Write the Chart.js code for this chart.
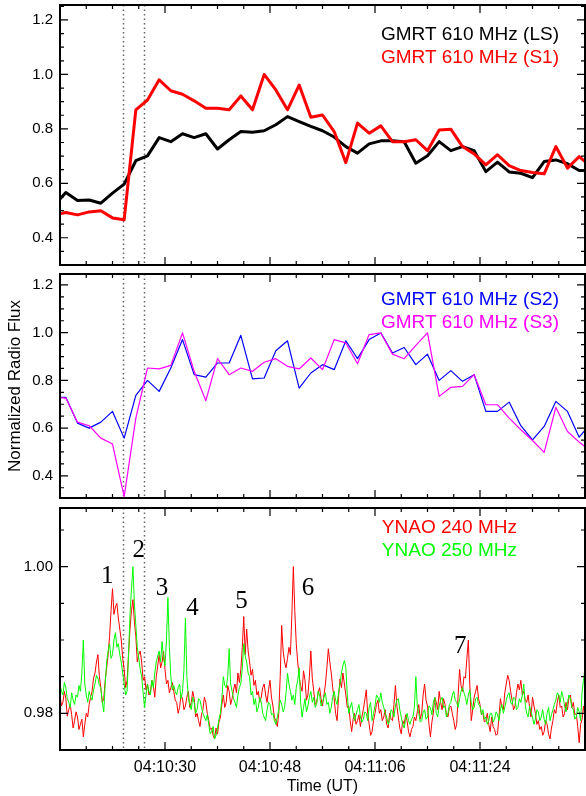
<!DOCTYPE html>
<html>
<head>
<meta charset="utf-8">
<script src="https://cdn.jsdelivr.net/npm/chart.js@4.4.0/dist/chart.umd.min.js"></script>
<style>
  html, body { margin: 0; padding: 0; background: #fff; }
  #wrap { position: relative; width: 586px; height: 796px; }
  canvas { position: absolute; left: 0; }
</style>
</head>
<body>
<div id="wrap">
  <canvas id="gmrt1" width="586" height="270" style="top:0"></canvas>
  <canvas id="gmrt2" width="586" height="233" style="top:270px"></canvas>
  <canvas id="ynao" width="586" height="293" style="top:503px"></canvas>
</div>
<script>
// time axis: seconds after 04:10:12 UT
const timeTicks = [18, 36, 54, 72];
const timeLabels = ['04:10:30', '04:10:48', '04:11:06', '04:11:24'];
const markerTimes = [10.8, 14.4];   // dotted lines

const gmrtYTicks = [0.4, 0.6, 0.8, 1.0, 1.2];
const ynaoYTicks = [0.98, 1.00];

// GMRT 610 MHz, 2 s cadence
const gmrtTime = [-1, 1, 3, 5, 7, 9, 11, 13, 15, 17, 19, 21, 23, 25, 27, 29, 31, 33, 35, 37, 39, 41, 43, 45,
  47, 49, 51, 53, 55, 57, 59, 61, 63, 65, 67, 69, 71, 73, 75, 77, 79, 81, 83, 85, 87, 89, 91];
const gmrtLS = [0.518, 0.566, 0.537, 0.539, 0.527, 0.564, 0.597, 0.683, 0.701, 0.768, 0.753, 0.782, 0.768,
  0.782, 0.726, 0.760, 0.790, 0.788, 0.793, 0.815, 0.845, 0.827, 0.809, 0.793, 0.770, 0.735, 0.711, 0.745,
  0.756, 0.756, 0.753, 0.674, 0.701, 0.753, 0.720, 0.735, 0.720, 0.643, 0.678, 0.642, 0.637, 0.621, 0.680,
  0.686, 0.672, 0.647, 0.647];
const gmrtS1 = [0.484, 0.493, 0.484, 0.495, 0.499, 0.473, 0.466, 0.870, 0.906, 0.980, 0.940, 0.927, 0.903,
  0.876, 0.876, 0.870, 0.921, 0.870, 1.000, 0.943, 0.870, 0.961, 0.843, 0.851, 0.790, 0.676, 0.821, 0.784,
  0.811, 0.753, 0.753, 0.760, 0.720, 0.796, 0.799, 0.735, 0.708, 0.668, 0.705, 0.665, 0.647, 0.640, 0.635,
  0.735, 0.656, 0.698, 0.662];
const gmrtS2 = [0.729, 0.729, 0.621, 0.600, 0.625, 0.670, 0.558, 0.737, 0.800, 0.754, 0.852, 0.971, 0.824,
  0.814, 0.873, 0.873, 0.989, 0.806, 0.810, 0.924, 0.966, 0.768, 0.831, 0.866, 0.845, 0.966, 0.891, 0.971,
  0.999, 0.915, 0.938, 0.866, 0.910, 0.800, 0.841, 0.796, 0.824, 0.670, 0.670, 0.709, 0.610, 0.551, 0.607,
  0.712, 0.670, 0.562, 0.620];
const gmrtS3 = [0.729, 0.726, 0.625, 0.610, 0.558, 0.533, 0.313, 0.642, 0.852, 0.848, 0.863, 0.999, 0.838,
  0.715, 0.891, 0.824, 0.852, 0.838, 0.876, 0.891, 0.859, 0.848, 0.894, 0.845, 0.971, 0.957, 0.870, 0.992,
  0.999, 0.910, 0.891, 0.947, 0.999, 0.733, 0.771, 0.775, 0.824, 0.698, 0.698, 0.642, 0.593, 0.548, 0.498,
  0.687, 0.586, 0.541, 0.505];

// YNAO, sampled every 0.25 s from 04:10:12 (one row = 5 s)
const ynaoStep = 0.25;
const ynao240 = [
  0.9825, 0.9810, 0.9815, 0.9830, 0.9820, 0.9796, 0.9805, 0.9812, 0.9798, 0.9780, 0.9790, 0.9802, 0.9795, 0.9778, 0.9785, 0.9792, 0.9768, 0.9785, 0.9800, 0.9795,
  0.9812, 0.9822, 0.9830, 0.9848, 0.9855, 0.9870, 0.9880, 0.9850, 0.9835, 0.9815, 0.9820, 0.9845, 0.9862, 0.9880, 0.9905, 0.9940, 0.9970, 0.9935, 0.9945, 0.9950,
  0.9930, 0.9915, 0.9900, 0.9875, 0.9860, 0.9835, 0.9845, 0.9880, 0.9915, 0.9940, 0.9955, 0.9925, 0.9905, 0.9870, 0.9880, 0.9885, 0.9870, 0.9845, 0.9850, 0.9832,
  0.9840, 0.9825, 0.9830, 0.9845, 0.9838, 0.9822, 0.9850, 0.9865, 0.9880, 0.9862, 0.9870, 0.9885, 0.9860, 0.9840, 0.9845, 0.9828, 0.9835, 0.9842, 0.9830, 0.9818,
  0.9815, 0.9800, 0.9808, 0.9825, 0.9820, 0.9805, 0.9810, 0.9822, 0.9830, 0.9808, 0.9815, 0.9830, 0.9820, 0.9795, 0.9800, 0.9790, 0.9782, 0.9798, 0.9805, 0.9822,
  0.9815, 0.9800, 0.9790, 0.9778, 0.9780, 0.9770, 0.9765, 0.9780, 0.9772, 0.9788, 0.9795, 0.9812, 0.9825, 0.9808, 0.9815, 0.9838, 0.9830, 0.9812, 0.9820, 0.9832,
  0.9840, 0.9828, 0.9855, 0.9842, 0.9860, 0.9890, 0.9932, 0.9880, 0.9915, 0.9885, 0.9870, 0.9852, 0.9860, 0.9838, 0.9845, 0.9825, 0.9830, 0.9815, 0.9822, 0.9835,
  0.9840, 0.9825, 0.9815, 0.9832, 0.9845, 0.9822, 0.9810, 0.9795, 0.9790, 0.9782, 0.9800, 0.9850, 0.9920, 0.9885, 0.9870, 0.9862, 0.9875, 0.9890, 0.9880, 0.9935,
  1.0000, 0.9940, 0.9895, 0.9870, 0.9850, 0.9838, 0.9830, 0.9858, 0.9845, 0.9818, 0.9825, 0.9850, 0.9885, 0.9848, 0.9830, 0.9812, 0.9815, 0.9828, 0.9835, 0.9820,
  0.9810, 0.9825, 0.9840, 0.9862, 0.9888, 0.9870, 0.9855, 0.9835, 0.9820, 0.9800, 0.9790, 0.9822, 0.9847, 0.9835, 0.9855, 0.9840, 0.9825, 0.9808, 0.9810, 0.9790,
  0.9775, 0.9792, 0.9800, 0.9785, 0.9790, 0.9798, 0.9782, 0.9795, 0.9805, 0.9818, 0.9832, 0.9800, 0.9785, 0.9770, 0.9775, 0.9790, 0.9800, 0.9812, 0.9818, 0.9800,
  0.9805, 0.9790, 0.9795, 0.9805, 0.9785, 0.9780, 0.9800, 0.9792, 0.9790, 0.9812, 0.9838, 0.9810, 0.9795, 0.9780, 0.9772, 0.9790, 0.9785, 0.9798, 0.9790, 0.9775,
  0.9768, 0.9778, 0.9782, 0.9795, 0.9790, 0.9802, 0.9812, 0.9792, 0.9800, 0.9825, 0.9840, 0.9818, 0.9810, 0.9785, 0.9768, 0.9788, 0.9800, 0.9822, 0.9815, 0.9805,
  0.9830, 0.9815, 0.9805, 0.9820, 0.9812, 0.9798, 0.9795, 0.9808, 0.9810, 0.9800, 0.9790, 0.9778, 0.9785, 0.9825, 0.9860, 0.9838, 0.9830, 0.9850, 0.9848, 0.9875,
  0.9900, 0.9840, 0.9790, 0.9805, 0.9822, 0.9830, 0.9838, 0.9820, 0.9812, 0.9798, 0.9800, 0.9788, 0.9790, 0.9800, 0.9785, 0.9775, 0.9795, 0.9782, 0.9778, 0.9770,
  0.9772, 0.9795, 0.9820, 0.9808, 0.9805, 0.9828, 0.9840, 0.9852, 0.9845, 0.9830, 0.9818, 0.9805, 0.9810, 0.9828, 0.9840, 0.9832, 0.9845, 0.9825, 0.9830, 0.9818,
  0.9815, 0.9825, 0.9808, 0.9795, 0.9822, 0.9810, 0.9800, 0.9785, 0.9790, 0.9778, 0.9782, 0.9770, 0.9775, 0.9790, 0.9785, 0.9772, 0.9765, 0.9780, 0.9790, 0.9805,
  0.9800, 0.9815, 0.9825, 0.9808, 0.9810, 0.9795, 0.9800, 0.9815, 0.9805, 0.9822, 0.9825, 0.9808, 0.9815, 0.9798, 0.9800, 0.9782, 0.9760, 0.9785, 0.9792, 0.9810,
  0.9795];
const ynao250 = [
  0.9840, 0.9830, 0.9825, 0.9842, 0.9835, 0.9820, 0.9815, 0.9808, 0.9828, 0.9818, 0.9812, 0.9825, 0.9822, 0.9838, 0.9830, 0.9855, 0.9900, 0.9840, 0.9825, 0.9815,
  0.9830, 0.9822, 0.9818, 0.9832, 0.9840, 0.9852, 0.9848, 0.9838, 0.9835, 0.9815, 0.9802, 0.9840, 0.9870, 0.9885, 0.9895, 0.9875, 0.9880, 0.9900, 0.9910, 0.9890,
  0.9895, 0.9880, 0.9870, 0.9855, 0.9840, 0.9825, 0.9830, 0.9880, 0.9935, 0.9970, 1.0000, 0.9950, 0.9920, 0.9890, 0.9875, 0.9860, 0.9850, 0.9828, 0.9808, 0.9825,
  0.9840, 0.9830, 0.9825, 0.9845, 0.9835, 0.9855, 0.9870, 0.9878, 0.9885, 0.9870, 0.9898, 0.9875, 0.9865, 0.9900, 0.9958, 0.9890, 0.9850, 0.9832, 0.9838, 0.9830,
  0.9825, 0.9835, 0.9840, 0.9820, 0.9830, 0.9860, 0.9930, 0.9850, 0.9822, 0.9812, 0.9805, 0.9822, 0.9815, 0.9800, 0.9805, 0.9820, 0.9818, 0.9808, 0.9800, 0.9795,
  0.9790, 0.9798, 0.9785, 0.9772, 0.9775, 0.9782, 0.9765, 0.9770, 0.9780, 0.9792, 0.9800, 0.9820, 0.9850, 0.9838, 0.9835, 0.9850, 0.9888, 0.9840, 0.9830, 0.9820,
  0.9815, 0.9808, 0.9825, 0.9835, 0.9840, 0.9862, 0.9895, 0.9878, 0.9870, 0.9855, 0.9850, 0.9825, 0.9830, 0.9812, 0.9820, 0.9802, 0.9808, 0.9822, 0.9815, 0.9800,
  0.9795, 0.9790, 0.9805, 0.9815, 0.9812, 0.9798, 0.9800, 0.9790, 0.9785, 0.9795, 0.9805, 0.9818, 0.9812, 0.9802, 0.9808, 0.9828, 0.9855, 0.9840, 0.9830, 0.9818,
  0.9825, 0.9812, 0.9835, 0.9845, 0.9862, 0.9815, 0.9795, 0.9808, 0.9820, 0.9802, 0.9810, 0.9822, 0.9830, 0.9815, 0.9822, 0.9808, 0.9812, 0.9830, 0.9825, 0.9810,
  0.9815, 0.9822, 0.9828, 0.9812, 0.9815, 0.9800, 0.9808, 0.9822, 0.9830, 0.9818, 0.9812, 0.9828, 0.9840, 0.9855, 0.9865, 0.9872, 0.9862, 0.9825, 0.9800, 0.9808,
  0.9815, 0.9800, 0.9790, 0.9798, 0.9805, 0.9812, 0.9795, 0.9788, 0.9792, 0.9802, 0.9800, 0.9790, 0.9808, 0.9815, 0.9790, 0.9800, 0.9810, 0.9825, 0.9822, 0.9815,
  0.9828, 0.9815, 0.9808, 0.9800, 0.9795, 0.9785, 0.9790, 0.9805, 0.9802, 0.9795, 0.9810, 0.9818, 0.9820, 0.9805, 0.9795, 0.9785, 0.9780, 0.9792, 0.9800, 0.9790,
  0.9785, 0.9792, 0.9795, 0.9808, 0.9850, 0.9810, 0.9800, 0.9788, 0.9790, 0.9802, 0.9805, 0.9792, 0.9795, 0.9810, 0.9808, 0.9798, 0.9815, 0.9822, 0.9800, 0.9795,
  0.9810, 0.9818, 0.9822, 0.9808, 0.9810, 0.9795, 0.9800, 0.9812, 0.9815, 0.9825, 0.9830, 0.9818, 0.9815, 0.9808, 0.9820, 0.9830, 0.9835, 0.9828, 0.9822, 0.9812,
  0.9825, 0.9832, 0.9815, 0.9805, 0.9808, 0.9820, 0.9822, 0.9812, 0.9810, 0.9798, 0.9805, 0.9792, 0.9795, 0.9785, 0.9790, 0.9800, 0.9800, 0.9788, 0.9792, 0.9802,
  0.9798, 0.9790, 0.9805, 0.9812, 0.9800, 0.9808, 0.9818, 0.9825, 0.9828, 0.9815, 0.9812, 0.9822, 0.9820, 0.9805, 0.9808, 0.9820, 0.9815, 0.9825, 0.9840, 0.9812,
  0.9800, 0.9795, 0.9810, 0.9802, 0.9795, 0.9785, 0.9792, 0.9805, 0.9802, 0.9790, 0.9795, 0.9805, 0.9792, 0.9785, 0.9800, 0.9808, 0.9790, 0.9798, 0.9805, 0.9812,
  0.9818, 0.9828, 0.9825, 0.9815, 0.9830, 0.9822, 0.9810, 0.9802, 0.9815, 0.9825, 0.9820, 0.9808, 0.9805, 0.9792, 0.9795, 0.9808, 0.9802, 0.9790, 0.9830, 0.9845,
  0.9862];

// burst numbers, placed in data units
const burstIds = ['1', '2', '3', '4', '5', '6', '7'];
const burstTime = [8.1, 13.5, 17.5, 22.7, 31.1, 42.5, 68.6];
const burstFlux = [0.9978, 1.0013, 0.9961, 0.9934, 0.9943, 0.9961, 0.9882];

Chart.defaults.font.family = "'Liberation Sans', Arial, sans-serif";
Chart.defaults.color = '#000';

const pts = (xs, ys) => ys.map((v, i) => ({ x: xs[i], y: v }));
const ynaoPts = ys => ys.map((v, i) => ({ x: i * ynaoStep, y: v }));
const noEdgePad = s => { s.paddingTop = 0; s.paddingBottom = 0; s.paddingLeft = 0; s.paddingRight = 0; };

// IDL-style box: inward ticks on all four sides, dotted markers, text legend
const idlFrame = {
  id: 'idlFrame',
  beforeDatasetsDraw(chart) {
    const { ctx, chartArea: a, scales: { x } } = chart;
    ctx.save();
    ctx.strokeStyle = '#666';
    ctx.lineWidth = 1.5;
    ctx.setLineDash([1.5, 3]);
    markerTimes.forEach(t => {
      const px = Math.round(x.getPixelForValue(t)) + 0.5;
      ctx.beginPath();
      ctx.moveTo(px, a.top);
      ctx.lineTo(px, a.bottom);
      ctx.stroke();
    });
    ctx.restore();
  },
  afterDraw(chart, args, opts) {
    const { ctx, chartArea: a, scales: { x, y } } = chart;
    ctx.save();
    ctx.strokeStyle = '#000';
    ctx.lineWidth = 1.2;

    const steps = (scale, minor, major, fn) => {
      const k0 = Math.ceil(scale.min / minor - 1e-6), k1 = Math.floor(scale.max / minor + 1e-6);
      for (let k = k0; k <= k1; k++) {
        const v = k * minor;
        if (Math.abs(v - scale.min) < 1e-6 || Math.abs(v - scale.max) < 1e-6) continue;
        const isMajor = Math.abs(v / major - Math.round(v / major)) < 1e-6;
        fn(scale.getPixelForValue(v), isMajor ? 8 : 4);
      }
    };
    ctx.beginPath();
    steps(x, opts.xMinor, opts.xMajor, (p, len) => {
      ctx.moveTo(p, a.bottom); ctx.lineTo(p, a.bottom - len);
      ctx.moveTo(p, a.top); ctx.lineTo(p, a.top + len);
    });
    steps(y, opts.yMinor, opts.yMajor, (p, len) => {
      ctx.moveTo(a.left, p); ctx.lineTo(a.left + len, p);
      ctx.moveTo(a.right, p); ctx.lineTo(a.right - len, p);
    });
    ctx.stroke();

    ctx.lineWidth = 2;
    ctx.strokeRect(a.left, a.top, a.right - a.left, a.bottom - a.top);

    // legend lines
    ctx.font = "19px 'Liberation Sans', Arial, sans-serif";
    ctx.textAlign = 'right';
    ctx.textBaseline = 'alphabetic';
    (opts.legend || []).forEach((item, i) => {
      ctx.fillStyle = item.color;
      ctx.fillText(item.text, a.right - opts.legendRight, a.top + opts.legendTop + i * 23);
    });

    if (opts.bursts) {
      ctx.font = "25px 'Liberation Serif', 'Times New Roman', serif";
      ctx.textAlign = 'center';
      ctx.fillStyle = '#000';
      burstIds.forEach((id, i) => {
        ctx.fillText(id, x.getPixelForValue(burstTime[i]), y.getPixelForValue(burstFlux[i]));
      });
    }
    ctx.restore();
  }
};

function yAxis(min, max, ticks, digits, title) {
  return {
    type: 'linear',
    min: min,
    max: max,
    afterBuildTicks: s => { s.ticks = ticks.map(v => ({ value: v })); },
    afterFit: s => { s.width = 60; noEdgePad(s); },
    grid: { display: false, drawTicks: false },
    border: { display: false },
    ticks: { padding: 7, font: { size: 15 }, color: '#000', callback: v => v.toFixed(digits) },
    title: title ? { display: true, text: title, font: { size: 17 }, color: '#000', padding: { top: 5, bottom: 0 } } : { display: false }
  };
}

const common = {
  responsive: false,
  animation: false,
  elements: { point: { radius: 0 }, line: { tension: 0, borderJoinStyle: 'round' } },
};

// Panel 1: GMRT LS and S1
new Chart(document.getElementById('gmrt1'), {
  type: 'line',
  data: {
    datasets: [
      { data: pts(gmrtTime, gmrtS1), borderColor: '#ff0000', borderWidth: 3, clip: 0 },
      { data: pts(gmrtTime, gmrtLS), borderColor: '#000000', borderWidth: 3, clip: 0 }
    ]
  },
  options: {
    ...common,
    layout: { padding: { top: 5, right: 1, bottom: 5, left: 0 } },
    plugins: {
      legend: { display: false }, tooltip: { enabled: false },
      idlFrame: {
        xMinor: 4.5, xMajor: 18, yMinor: 0.05, yMajor: 0.2, legendRight: 26, legendTop: 35,
        legend: [{ text: 'GMRT 610 MHz (LS)', color: '#000000' }, { text: 'GMRT 610 MHz (S1)', color: '#ff0000' }]
      }
    },
    scales: {
      x: { type: 'linear', display: false, min: 0, max: 90 },
      y: yAxis(0.3, 1.255, gmrtYTicks, 1)
    }
  },
  plugins: [idlFrame]
});

// Panel 2: GMRT S2 and S3
new Chart(document.getElementById('gmrt2'), {
  type: 'line',
  data: {
    datasets: [
      { data: pts(gmrtTime, gmrtS3), borderColor: '#ff00ff', borderWidth: 1.2, clip: 0 },
      { data: pts(gmrtTime, gmrtS2), borderColor: '#0000ff', borderWidth: 1.2, clip: 0 }
    ]
  },
  options: {
    ...common,
    layout: { padding: { top: 4, right: 1, bottom: 5, left: 0 } },
    plugins: {
      legend: { display: false }, tooltip: { enabled: false },
      idlFrame: {
        xMinor: 4.5, xMajor: 18, yMinor: 0.05, yMajor: 0.2, legendRight: 26, legendTop: 31,
        legend: [{ text: 'GMRT 610 MHz (S2)', color: '#0000ff' }, { text: 'GMRT 610 MHz (S3)', color: '#ff00ff' }]
      }
    },
    scales: {
      x: { type: 'linear', display: false, min: 0, max: 90 },
      y: yAxis(0.307, 1.246, gmrtYTicks, 1, 'Normalized Radio Flux')
    }
  },
  plugins: [idlFrame]
});

// Panel 3: YNAO 240 / 250 MHz
new Chart(document.getElementById('ynao'), {
  type: 'line',
  data: {
    datasets: [
      { data: ynaoPts(ynao250), borderColor: '#00ff00', borderWidth: 1, clip: 0, order: 0 },
      { data: ynaoPts(ynao240), borderColor: '#ff0000', borderWidth: 1, clip: 0, order: 1 }
    ]
  },
  options: {
    ...common,
    layout: { padding: { top: 5, right: 1, bottom: 0, left: 0 } },
    plugins: {
      legend: { display: false }, tooltip: { enabled: false },
      idlFrame: {
        xMinor: 4.5, xMajor: 18, yMinor: 0.005, yMajor: 0.02, legendRight: 68, legendTop: 25, bursts: true,
        legend: [{ text: 'YNAO 240 MHz', color: '#ff0000' }, { text: 'YNAO 250 MHz', color: '#00ff00' }]
      }
    },
    scales: {
      x: {
        type: 'linear', min: 0, max: 90,
        afterBuildTicks: s => { s.ticks = timeTicks.map(v => ({ value: v })); },
        afterFit: s => { s.height = 46; noEdgePad(s); },
        grid: { display: false, drawTicks: false },
        border: { display: false },
        ticks: { padding: 8, font: { size: 16 }, color: '#000', maxRotation: 0, autoSkip: false,
                 callback: v => timeLabels[timeTicks.indexOf(v)] },
        title: { display: true, text: 'Time (UT)', font: { size: 16 }, color: '#000', padding: { top: 0, bottom: 0 } }
      },
      y: yAxis(0.975, 1.008, ynaoYTicks, 2)
    }
  },
  plugins: [idlFrame]
});
</script>
</body>
</html>
